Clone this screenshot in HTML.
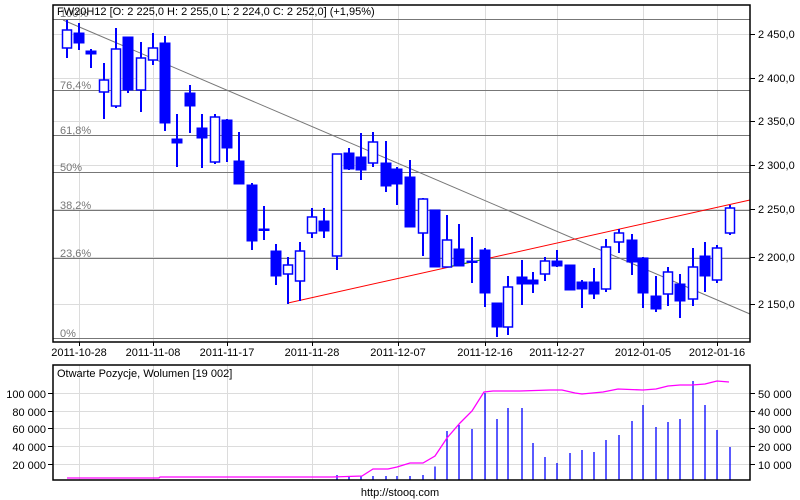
<!DOCTYPE html>
<html><head><meta charset="utf-8"><style>
html,body{margin:0;padding:0;background:#fff;}
svg{display:block;font-family:"Liberation Sans",Arial,sans-serif;font-size:11px;}
.w line{stroke:#00f;stroke-width:2}
.f{fill:#00f;stroke:#00f;stroke-width:1}
.h{fill:#fff;stroke:#00f;stroke-width:1.5}
</style></head><body>
<svg width="800" height="500" viewBox="0 0 800 500" xmlns="http://www.w3.org/2000/svg">
<rect width="800" height="500" fill="#fff"/>
<g stroke="#dcdcdc" stroke-width="1">
<line x1="79.5" y1="5" x2="79.5" y2="342"/><line x1="153.5" y1="5" x2="153.5" y2="342"/><line x1="227.5" y1="5" x2="227.5" y2="342"/><line x1="312.5" y1="5" x2="312.5" y2="342"/><line x1="398.5" y1="5" x2="398.5" y2="342"/><line x1="485.5" y1="5" x2="485.5" y2="342"/><line x1="557.5" y1="5" x2="557.5" y2="342"/><line x1="643.5" y1="5" x2="643.5" y2="342"/><line x1="717.5" y1="5" x2="717.5" y2="342"/>
<line x1="53" y1="34.5" x2="750" y2="34.5"/><line x1="53" y1="78.5" x2="750" y2="78.5"/><line x1="53" y1="121.5" x2="750" y2="121.5"/><line x1="53" y1="165.5" x2="750" y2="165.5"/><line x1="53" y1="209.5" x2="750" y2="209.5"/><line x1="53" y1="257.5" x2="750" y2="257.5"/><line x1="53" y1="304.5" x2="750" y2="304.5"/>
</g>
<g stroke="#777" stroke-width="1">
<line x1="53" y1="19.5" x2="750" y2="19.5"/><line x1="53" y1="90.5" x2="750" y2="90.5"/><line x1="53" y1="135.5" x2="750" y2="135.5"/><line x1="53" y1="172.5" x2="750" y2="172.5"/><line x1="53" y1="210.5" x2="750" y2="210.5"/><line x1="53" y1="258.5" x2="750" y2="258.5"/><line x1="53" y1="338.5" x2="750" y2="338.5"/>
</g>
<g fill="#777" font-size="11">
<text x="60" y="89">76,4%</text><text x="60" y="134">61,8%</text><text x="60" y="171">50%</text><text x="60" y="209">38,2%</text><text x="60" y="257">23,6%</text><text x="60" y="337">0%</text><text x="60" y="17">100%</text>
</g>
<line x1="63" y1="20" x2="750" y2="314" stroke="#777" stroke-width="1"/>
<line x1="288" y1="303" x2="750" y2="200" stroke="#f00" stroke-width="1"/>
<line x1="452" y1="266" x2="490" y2="258" stroke="#0c0" stroke-width="1"/>
<g class="w">
<line x1="67" y1="20" x2="67" y2="58"/><rect class="h" x="62.5" y="30" width="9" height="18"/>
<line x1="79" y1="23" x2="79" y2="50"/><rect class="f" x="74" y="33" width="10" height="10"/>
<line x1="91" y1="49" x2="91" y2="68"/><rect class="f" x="86" y="51" width="10" height="3"/>
<line x1="104" y1="63" x2="104" y2="119"/><rect class="h" x="99.5" y="80" width="9" height="12"/>
<line x1="116" y1="28" x2="116" y2="108"/><rect class="h" x="111.5" y="49" width="9" height="57"/>
<line x1="128" y1="37" x2="128" y2="93"/><rect class="f" x="123" y="37" width="10" height="53"/>
<line x1="141" y1="42" x2="141" y2="112"/><rect class="h" x="136.5" y="58" width="9" height="32"/>
<line x1="153" y1="33" x2="153" y2="65"/><rect class="h" x="148.5" y="48" width="9" height="12"/>
<line x1="165" y1="36" x2="165" y2="131"/><rect class="f" x="160" y="43" width="10" height="80"/>
<line x1="177" y1="114" x2="177" y2="167"/><rect class="f" x="172" y="139" width="10" height="4"/>
<line x1="190" y1="85" x2="190" y2="133"/><rect class="f" x="185" y="93" width="10" height="13"/>
<line x1="202" y1="114" x2="202" y2="168"/><rect class="f" x="197" y="128" width="10" height="10"/>
<line x1="215" y1="114" x2="215" y2="164"/><rect class="h" x="210.5" y="117" width="9" height="45"/>
<line x1="227" y1="119" x2="227" y2="162"/><rect class="f" x="222" y="120" width="10" height="28"/>
<line x1="239" y1="132" x2="239" y2="184"/><rect class="f" x="234" y="161" width="10" height="23"/>
<line x1="252" y1="183" x2="252" y2="250"/><rect class="f" x="247" y="185" width="10" height="56"/>
<line x1="264" y1="206" x2="264" y2="240"/><rect class="f" x="259" y="229" width="10" height="1.5"/>
<line x1="276" y1="244" x2="276" y2="285"/><rect class="f" x="271" y="251" width="10" height="25"/>
<line x1="288" y1="257" x2="288" y2="304"/><rect class="h" x="283.5" y="265" width="9" height="9"/>
<line x1="300" y1="242" x2="300" y2="301"/><rect class="h" x="295.5" y="251" width="9" height="30"/>
<line x1="312" y1="208" x2="312" y2="238"/><rect class="h" x="307.5" y="217" width="9" height="16"/>
<line x1="324" y1="208" x2="324" y2="238"/><rect class="f" x="319" y="221" width="10" height="10"/>
<line x1="337" y1="154" x2="337" y2="270"/><rect class="h" x="332.5" y="154" width="9" height="102"/>
<line x1="349" y1="148" x2="349" y2="170"/><rect class="f" x="344" y="153" width="10" height="16"/>
<line x1="361" y1="133" x2="361" y2="180"/><rect class="f" x="356" y="157" width="10" height="13"/>
<line x1="373" y1="132" x2="373" y2="167"/><rect class="h" x="368.5" y="142" width="9" height="21"/>
<line x1="386" y1="141" x2="386" y2="192"/><rect class="f" x="381" y="163" width="10" height="23"/>
<line x1="397" y1="167" x2="397" y2="205"/><rect class="f" x="392" y="169" width="10" height="15"/>
<line x1="410" y1="160" x2="410" y2="227"/><rect class="f" x="405" y="177" width="10" height="50"/>
<line x1="423" y1="198" x2="423" y2="256"/><rect class="h" x="418.5" y="199" width="9" height="34"/>
<line x1="435" y1="210" x2="435" y2="267"/><rect class="f" x="430" y="210" width="10" height="57"/>
<line x1="447" y1="215" x2="447" y2="267"/><rect class="h" x="442.5" y="240" width="9" height="27"/>
<line x1="459" y1="224" x2="459" y2="266"/><rect class="f" x="454" y="249" width="10" height="17"/>
<line x1="472" y1="237" x2="472" y2="283"/><rect class="f" x="467" y="261" width="10" height="1.5"/>
<line x1="485" y1="248" x2="485" y2="307"/><rect class="f" x="480" y="250" width="10" height="43"/>
<line x1="497" y1="303" x2="497" y2="337"/><rect class="f" x="492" y="303" width="10" height="24"/>
<line x1="508" y1="276" x2="508" y2="335"/><rect class="h" x="503.5" y="287" width="9" height="40"/>
<line x1="522" y1="260" x2="522" y2="305"/><rect class="f" x="517" y="277" width="10" height="7"/>
<line x1="533" y1="272" x2="533" y2="293"/><rect class="f" x="528" y="280" width="10" height="4"/>
<line x1="545" y1="257" x2="545" y2="281"/><rect class="h" x="540.5" y="261" width="9" height="13"/>
<line x1="557" y1="250" x2="557" y2="267"/><rect class="f" x="552" y="261" width="10" height="5"/>
<line x1="570" y1="265" x2="570" y2="290"/><rect class="f" x="565" y="265" width="10" height="25"/>
<line x1="582" y1="280" x2="582" y2="308"/><rect class="f" x="577" y="282" width="10" height="7"/>
<line x1="594" y1="268" x2="594" y2="299"/><rect class="f" x="589" y="282" width="10" height="12"/>
<line x1="606" y1="239" x2="606" y2="292"/><rect class="h" x="601.5" y="247" width="9" height="42"/>
<line x1="619" y1="229" x2="619" y2="253"/><rect class="h" x="614.5" y="233" width="9" height="9"/>
<line x1="632" y1="234" x2="632" y2="275"/><rect class="f" x="627" y="240" width="10" height="22"/>
<line x1="643" y1="257" x2="643" y2="308"/><rect class="f" x="638" y="258" width="10" height="35"/>
<line x1="656" y1="276" x2="656" y2="312"/><rect class="f" x="651" y="296" width="10" height="13"/>
<line x1="668" y1="267" x2="668" y2="306"/><rect class="h" x="663.5" y="272" width="9" height="22"/>
<line x1="680" y1="274" x2="680" y2="318"/><rect class="f" x="675" y="284" width="10" height="17"/>
<line x1="693" y1="248" x2="693" y2="306"/><rect class="h" x="688.5" y="267" width="9" height="32"/>
<line x1="705" y1="242" x2="705" y2="292"/><rect class="f" x="700" y="256" width="10" height="20"/>
<line x1="717" y1="245" x2="717" y2="283"/><rect class="h" x="712.5" y="248" width="9" height="32"/>
<line x1="730" y1="205" x2="730" y2="235"/><rect class="h" x="725.5" y="208" width="9" height="25"/>
</g>
<rect x="53" y="5" width="697" height="337" fill="none" stroke="#000" stroke-width="1.5"/>
<g stroke="#000"><line x1="750" y1="34.5" x2="755" y2="34.5"/><line x1="750" y1="78.5" x2="755" y2="78.5"/><line x1="750" y1="121.5" x2="755" y2="121.5"/><line x1="750" y1="165.5" x2="755" y2="165.5"/><line x1="750" y1="209.5" x2="755" y2="209.5"/><line x1="750" y1="257.5" x2="755" y2="257.5"/><line x1="750" y1="304.5" x2="755" y2="304.5"/>
<line x1="79.5" y1="342" x2="79.5" y2="346"/><line x1="153.5" y1="342" x2="153.5" y2="346"/><line x1="227.5" y1="342" x2="227.5" y2="346"/><line x1="312.5" y1="342" x2="312.5" y2="346"/><line x1="398.5" y1="342" x2="398.5" y2="346"/><line x1="485.5" y1="342" x2="485.5" y2="346"/><line x1="557.5" y1="342" x2="557.5" y2="346"/><line x1="643.5" y1="342" x2="643.5" y2="346"/><line x1="717.5" y1="342" x2="717.5" y2="346"/></g>
<g fill="#000">
<text x="758" y="38">2 450,0</text><text x="758" y="82">2 400,0</text><text x="758" y="125">2 350,0</text><text x="758" y="169">2 300,0</text><text x="758" y="213">2 250,0</text><text x="758" y="261">2 200,0</text><text x="758" y="308">2 150,0</text>
<g text-anchor="middle"><text x="79" y="356">2011-10-28</text><text x="153" y="356">2011-11-08</text><text x="227" y="356">2011-11-17</text><text x="312" y="356">2011-11-28</text><text x="398" y="356">2011-12-07</text><text x="485" y="356">2011-12-16</text><text x="557" y="356">2011-12-27</text><text x="643" y="356">2012-01-05</text><text x="717" y="356">2012-01-16</text></g>
<text x="57" y="15">FW20H12 [O: 2 225,0  H: 2 255,0  L: 2 224,0  C: 2 252,0] (+1,95%)</text>
</g>
<g stroke="#dcdcdc">
<line x1="79.5" y1="365" x2="79.5" y2="480"/><line x1="153.5" y1="365" x2="153.5" y2="480"/><line x1="227.5" y1="365" x2="227.5" y2="480"/><line x1="312.5" y1="365" x2="312.5" y2="480"/><line x1="398.5" y1="365" x2="398.5" y2="480"/><line x1="485.5" y1="365" x2="485.5" y2="480"/><line x1="557.5" y1="365" x2="557.5" y2="480"/><line x1="643.5" y1="365" x2="643.5" y2="480"/><line x1="717.5" y1="365" x2="717.5" y2="480"/>
<line x1="53" y1="393.5" x2="750" y2="393.5"/><line x1="53" y1="411.5" x2="750" y2="411.5"/><line x1="53" y1="428.5" x2="750" y2="428.5"/><line x1="53" y1="446.5" x2="750" y2="446.5"/><line x1="53" y1="464.5" x2="750" y2="464.5"/>
</g>
<g stroke="#00f" stroke-width="1.3">
<line x1="337" y1="475" x2="337" y2="480"/><line x1="349" y1="476" x2="349" y2="480"/><line x1="361" y1="476" x2="361" y2="480"/><line x1="373" y1="476" x2="373" y2="480"/><line x1="386" y1="476" x2="386" y2="480"/><line x1="397" y1="476" x2="397" y2="480"/><line x1="410" y1="476" x2="410" y2="480"/><line x1="423" y1="475" x2="423" y2="480"/><line x1="435" y1="466.5" x2="435" y2="480"/><line x1="447" y1="431" x2="447" y2="480"/><line x1="459" y1="425" x2="459" y2="480"/><line x1="472" y1="429" x2="472" y2="480"/><line x1="485" y1="393" x2="485" y2="480"/><line x1="497" y1="419" x2="497" y2="480"/><line x1="508" y1="408" x2="508" y2="480"/><line x1="522" y1="408" x2="522" y2="480"/><line x1="533" y1="443" x2="533" y2="480"/><line x1="545" y1="457" x2="545" y2="480"/><line x1="557" y1="463" x2="557" y2="480"/><line x1="570" y1="453" x2="570" y2="480"/><line x1="582" y1="450" x2="582" y2="480"/><line x1="594" y1="452" x2="594" y2="480"/><line x1="606" y1="440" x2="606" y2="480"/><line x1="619" y1="435" x2="619" y2="480"/><line x1="632" y1="421" x2="632" y2="480"/><line x1="643" y1="405" x2="643" y2="480"/><line x1="656" y1="427" x2="656" y2="480"/><line x1="668" y1="422" x2="668" y2="480"/><line x1="680" y1="419" x2="680" y2="480"/><line x1="693" y1="381" x2="693" y2="480"/><line x1="705" y1="405" x2="705" y2="480"/><line x1="717" y1="430" x2="717" y2="480"/><line x1="730" y1="447" x2="730" y2="480"/>
</g>
<polyline fill="none" stroke="#f0f" stroke-width="1.3" points="67,478 159,478 160,477 300,477 332,477 362,476 373,469 388,469 397,467 410,463 423,463 435,456 447,438 460,423 472,411 484,392 493,391 520,391 550,390 562,390 575,393 582,394 603,392 618,389 643,390 656,389 668,386 680,385 692,385 705,384 717,381 729,382"/>
<rect x="53" y="365" width="697" height="115" fill="none" stroke="#000" stroke-width="1.5"/>
<g stroke="#000"><line x1="48" y1="393.5" x2="53" y2="393.5"/><line x1="48" y1="411.5" x2="53" y2="411.5"/><line x1="48" y1="428.5" x2="53" y2="428.5"/><line x1="48" y1="446.5" x2="53" y2="446.5"/><line x1="48" y1="464.5" x2="53" y2="464.5"/>
<line x1="750" y1="393.5" x2="755" y2="393.5"/><line x1="750" y1="411.5" x2="755" y2="411.5"/><line x1="750" y1="428.5" x2="755" y2="428.5"/><line x1="750" y1="446.5" x2="755" y2="446.5"/><line x1="750" y1="464.5" x2="755" y2="464.5"/></g>
<g fill="#000">
<g text-anchor="end"><text x="46" y="398">100 000</text><text x="46" y="416">80 000</text><text x="46" y="433">60 000</text><text x="46" y="451">40 000</text><text x="46" y="469">20 000</text></g>
<text x="758" y="398">50 000</text><text x="758" y="416">40 000</text><text x="758" y="433">30 000</text><text x="758" y="451">20 000</text><text x="758" y="469">10 000</text>
<text x="57" y="377">Otwarte Pozycje, Wolumen [19 002]</text>
<text x="400" y="496" text-anchor="middle">http://stooq.com</text>
</g>
</svg>
</body></html>
